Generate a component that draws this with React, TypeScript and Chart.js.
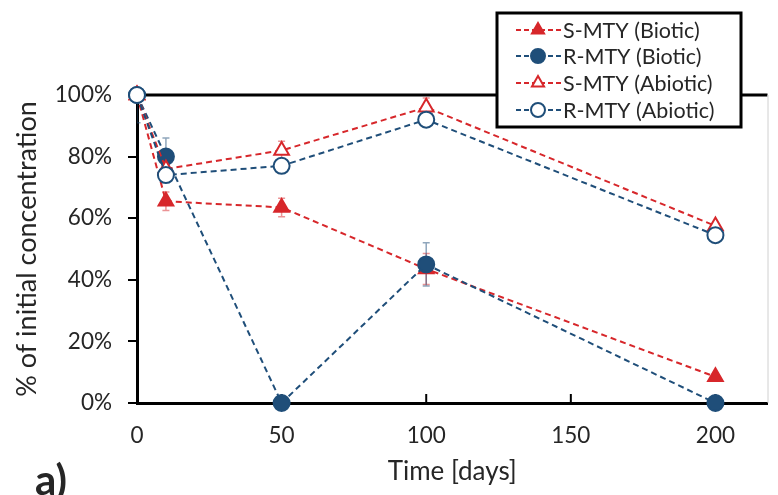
import React, { useEffect, useRef } from "react";
import { Chart, registerables } from "chart.js";

Chart.register(...registerables);

// ---- data ----
const days = [0, 10, 50, 100, 200];
const sBiotic = [100, 65.5, 63.5, 43.5, 8.5];
const rBiotic = [100, 80, 0, 45, 0];
const sAbiotic = [100, 76, 82, 96, 57.5];
const rAbiotic = [100, 74, 77, 92, 54.5];
const sBioticErr = [0, 3, 3, 5, 1];
const rBioticErr = [0, 6, 0, 7, 0];
const sAbioticErr = [0, 2, 3, 3, 1];
const rAbioticErr = [9, 2, 1, 2, 1];
const xTickValues = [0, 50, 100, 150, 200];
const seriesNames = ["S-MTY (Biotic)", "R-MTY (Biotic)", "S-MTY (Abiotic)", "R-MTY (Abiotic)"];
const xTitle = "Time [days]";
const yTitle = "% of initial concentration";
const panelLabel = "a)";

const RED = "#d7272b";
const BLUE = "#1f4e79";
const FONT = "Lato";
const TEXT = "#262626";

type Series = {
  name: string;
  values: number[];
  errs: number[];
  color: string;
  style: "triangle" | "circle";
  filled: boolean;
  order: number;
};

const series: Series[] = [
  { name: seriesNames[0], values: sBiotic, errs: sBioticErr, color: RED, style: "triangle", filled: true, order: 4 },
  { name: seriesNames[1], values: rBiotic, errs: rBioticErr, color: BLUE, style: "circle", filled: true, order: 3 },
  { name: seriesNames[2], values: sAbiotic, errs: sAbioticErr, color: RED, style: "triangle", filled: false, order: 2 },
  { name: seriesNames[3], values: rAbiotic, errs: rAbioticErr, color: BLUE, style: "circle", filled: false, order: 1 },
];

function alpha(hex: string, a: number) {
  const n = parseInt(hex.slice(1), 16);
  return `rgba(${(n >> 16) & 255},${(n >> 8) & 255},${n & 255},${a})`;
}

function drawMarker(ctx: CanvasRenderingContext2D, s: Series, x: number, y: number, r: number) {
  ctx.save();
  ctx.setLineDash([]);
  ctx.lineWidth = 2;
  ctx.strokeStyle = s.color;
  ctx.fillStyle = s.filled ? s.color : "#ffffff";
  ctx.beginPath();
  if (s.style === "circle") {
    ctx.arc(x, y, r, 0, Math.PI * 2);
  } else {
    ctx.moveTo(x, y - r);
    ctx.lineTo(x + r * 0.866, y + r * 0.5);
    ctx.lineTo(x - r * 0.866, y + r * 0.5);
    ctx.closePath();
  }
  ctx.fill();
  ctx.stroke();
  ctx.restore();
}

const decorPlugin = {
  id: "decor",
  beforeDatasetsDraw(chart: any) {
    const { ctx, chartArea, scales } = chart;
    const xs = scales.x;
    const ys = scales.y;
    ctx.save();
    // top border
    ctx.strokeStyle = "#000";
    ctx.lineWidth = 3;
    ctx.beginPath();
    ctx.moveTo(chartArea.left - 1.5, chartArea.top);
    ctx.lineTo(chartArea.right, chartArea.top);
    ctx.stroke();
    // right thin gray line
    ctx.strokeStyle = "#d0d0d0";
    ctx.lineWidth = 1;
    ctx.beginPath();
    ctx.moveTo(chartArea.right + 0.5, chartArea.top);
    ctx.lineTo(chartArea.right + 0.5, chartArea.bottom);
    ctx.stroke();
    // inward x ticks
    ctx.strokeStyle = "#000";
    ctx.lineWidth = 2;
    xTickValues.forEach((v) => {
      if (v === 0) return;
      const px = xs.getPixelForValue(v);
      ctx.beginPath();
      ctx.moveTo(px, chartArea.bottom);
      ctx.lineTo(px, chartArea.bottom - 9);
      ctx.stroke();
    });
    // error bars (clipped to plot area)
    ctx.beginPath();
    ctx.rect(chartArea.left, chartArea.top + 2, chartArea.right - chartArea.left, chartArea.bottom - chartArea.top);
    ctx.clip();
    series.forEach((s) => {
      ctx.strokeStyle = alpha(s.color, 0.5);
      ctx.lineWidth = 1.5;
      s.values.forEach((v, j) => {
        const e = s.errs[j];
        if (!e) return;
        const px = xs.getPixelForValue(days[j]);
        const y1 = ys.getPixelForValue(v + e);
        const y2 = ys.getPixelForValue(v - e);
        ctx.beginPath();
        ctx.moveTo(px, y1);
        ctx.lineTo(px, y2);
        ctx.moveTo(px - 3.5, y1);
        ctx.lineTo(px + 3.5, y1);
        ctx.moveTo(px - 3.5, y2);
        ctx.lineTo(px + 3.5, y2);
        ctx.stroke();
      });
    });
    ctx.restore();
  },
  afterDraw(chart: any) {
    const { ctx } = chart;
    ctx.save();
    // legend box
    const bx = 497, by = 13, bw = 244, bh = 114;
    ctx.fillStyle = "#fff";
    ctx.fillRect(bx, by, bw, bh);
    ctx.strokeStyle = "#000";
    ctx.lineWidth = 3;
    ctx.strokeRect(bx, by, bw, bh);
    const rows = [30, 56, 83, 110];
    series.forEach((s, i) => {
      const y = rows[i];
      ctx.strokeStyle = s.color;
      ctx.lineWidth = 2;
      ctx.setLineDash([5, 3]);
      ctx.beginPath();
      ctx.moveTo(516, y);
      ctx.lineTo(561, y);
      ctx.stroke();
      ctx.setLineDash([]);
      drawMarker(ctx, s, 538, y, 7);
      ctx.fillStyle = TEXT;
      ctx.font = `21.5px ${FONT}`;
      ctx.textAlign = "left";
      ctx.textBaseline = "middle";
      ctx.fillText(s.name, 563, y + 1);
    });
    // panel label
    ctx.fillStyle = TEXT;
    ctx.font = `bold 42px ${FONT}`;
    ctx.textAlign = "left";
    ctx.textBaseline = "alphabetic";
    ctx.fillText(panelLabel, 35, 495);
    ctx.restore();
  },
};

export default function App() {
  const ref = useRef<HTMLCanvasElement | null>(null);
  useEffect(() => {
    if (!ref.current) return;
    const chart = new Chart(ref.current, {
      type: "line",
      data: {
        datasets: series.map((s) => ({
          label: s.name,
          data: days.map((d, j) => ({ x: d, y: s.values[j] })),
          borderColor: s.color,
          backgroundColor: s.filled ? s.color : "#ffffff",
          borderWidth: 2,
          borderDash: [6, 4],
          pointStyle: s.style,
          pointRadius: s.style === "circle" ? 8 : 8.5,
          pointBorderWidth: 2,
          pointBorderColor: s.color,
          pointBackgroundColor: s.filled ? s.color : "#ffffff",
          tension: 0,
          clip: false,
          order: s.order,
        })) as any,
      },
      options: {
        animation: false,
        responsive: false,
        layout: { padding: { top: 95, right: 1, left: 0, bottom: 0 } },
        plugins: { legend: { display: false }, tooltip: { enabled: false } },
        elements: { point: { hoverRadius: 8 } },
        scales: {
          x: {
            type: "linear",
            min: 0,
            max: 218,
            afterFit: (s: any) => { s.height = 92; },
            ticks: {
              stepSize: 50,
              includeBounds: false,
              font: { family: FONT, size: 22.5 },
              color: TEXT,
              padding: 19,
            },
            grid: { display: true, drawOnChartArea: false, drawTicks: false },
            border: { display: true, color: "#000", width: 3 },
            title: {
              display: true,
              text: xTitle,
              font: { family: FONT, size: 26 },
              color: TEXT,
              padding: { top: 0, bottom: 8 },
            },
          },
          y: {
            min: 0,
            max: 100,
            afterFit: (s: any) => { s.width = 137; },
            ticks: {
              stepSize: 20,
              callback: (v: any) => `${v}%`,
              font: { family: FONT, size: 22.5 },
              color: TEXT,
              padding: 16,
            },
            grid: { display: true, drawOnChartArea: false, drawTicks: true, tickLength: 9, color: "#000", lineWidth: 2 },
            border: { display: true, color: "#000", width: 3 },
            title: {
              display: true,
              text: yTitle,
              font: { family: FONT, size: 27 },
              color: TEXT,
              padding: { top: 11, bottom: 0 },
            },
          },
        },
      } as any,
      plugins: [decorPlugin],
    });
    return () => chart.destroy();
  }, []);
  return (
    <div style={{ position: "absolute", left: 0, top: 0, width: 778, height: 495, background: "#fff" }}>
      <canvas ref={ref} width={778} height={495} style={{ display: "block" }} />
    </div>
  );
}
